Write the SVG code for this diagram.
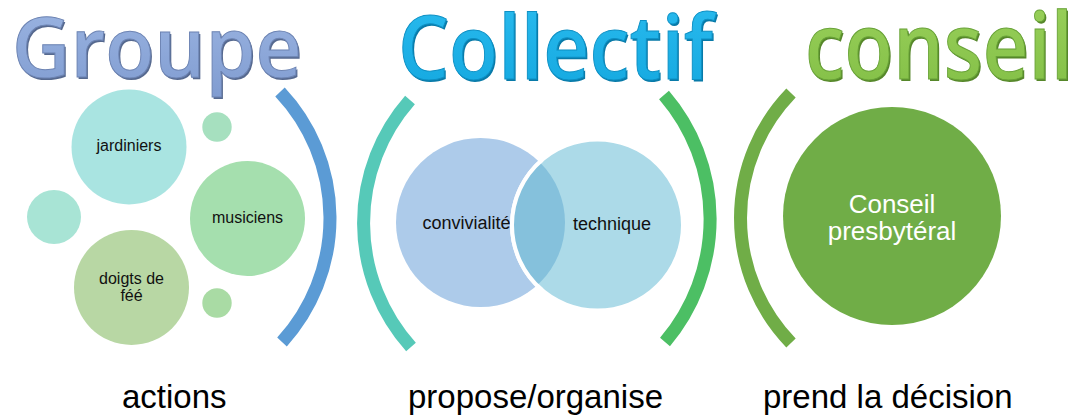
<svg xmlns="http://www.w3.org/2000/svg" width="1080" height="416" viewBox="0 0 1080 416">
  <defs>
    <linearGradient id="gBlue" x1="0" y1="0" x2="0" y2="1">
      <stop offset="0" stop-color="#9fb8e4"/>
      <stop offset="1" stop-color="#7f9bd0"/>
    </linearGradient>
    <linearGradient id="gCyan" x1="0" y1="0" x2="0" y2="1">
      <stop offset="0" stop-color="#2cbdf0"/>
      <stop offset="1" stop-color="#12a6de"/>
    </linearGradient>
    <linearGradient id="gGreen" x1="0" y1="0" x2="0" y2="1">
      <stop offset="0" stop-color="#9dd35e"/>
      <stop offset="1" stop-color="#80bd44"/>
    </linearGradient>
    <clipPath id="clipTech">
      <circle cx="597.5" cy="225" r="85.5"/>
    </clipPath>
  </defs>
  <style>
    .title { font-family: "Open Sans", "Liberation Sans", sans-serif; font-weight: 600; }
    .lbl { font-family: "Liberation Sans", Arial, sans-serif; fill: #111111; text-anchor: middle; }
    .bottom { font-family: "Liberation Sans", Arial, sans-serif; font-size: 33px; fill: #000000; }
    .arc { fill: none; stroke-width: 13; stroke-linecap: butt; }
  </style>

  <rect width="1080" height="416" fill="#ffffff"/>

  <!-- Titles -->
  <g id="title-groupe" class="title">
    <text x="13.5" y="78.5" font-size="84" fill="#56698f" textLength="290" lengthAdjust="spacingAndGlyphs">Groupe</text>
    <text x="12" y="77" font-size="84" fill="url(#gBlue)" stroke="#6d84b3" stroke-width="1" textLength="290" lengthAdjust="spacingAndGlyphs">Groupe</text>
  </g>
  <g id="title-collectif" class="title">
    <text x="399.5" y="80.5" font-size="88" fill="#087aa8" textLength="315" lengthAdjust="spacingAndGlyphs">Collectif</text>
    <text x="398" y="79" font-size="88" fill="url(#gCyan)" stroke="#0e90c4" stroke-width="1" textLength="315" lengthAdjust="spacingAndGlyphs">Collectif</text>
  </g>
  <g id="title-conseil" class="title">
    <text x="806.5" y="80.5" font-size="92" fill="#56872a" textLength="268" lengthAdjust="spacingAndGlyphs">conseil</text>
    <text x="805" y="79" font-size="92" fill="url(#gGreen)" stroke="#69a338" stroke-width="1" textLength="268" lengthAdjust="spacingAndGlyphs">conseil</text>
  </g>

  <!-- Groupe bubbles -->
  <g id="node-jardiniers">
    <circle cx="129" cy="147" r="57.5" fill="#a9e4e1"/>
    <text class="lbl" x="129" y="151" font-size="16">jardiniers</text>
  </g>
  <g id="node-small-top">
    <circle cx="217" cy="127" r="14.7" fill="#a6e0bf"/>
  </g>
  <g id="node-small-left">
    <circle cx="54" cy="217" r="27" fill="#a8e4d5"/>
  </g>
  <g id="node-musiciens">
    <circle cx="247.5" cy="218.5" r="57.5" fill="#a5dfae"/>
    <text class="lbl" x="247.5" y="223" font-size="16">musiciens</text>
  </g>
  <g id="node-doigts">
    <circle cx="131.5" cy="287.5" r="57.5" fill="#b8d7a4"/>
    <text class="lbl" x="131.5" y="284" font-size="16">doigts de</text>
    <text class="lbl" x="131.5" y="301" font-size="16">féé</text>
  </g>
  <g id="node-small-bottom">
    <circle cx="217" cy="303" r="14.7" fill="#a9dba4"/>
  </g>

  <!-- Collectif Venn -->
  <g id="node-convivialite">
    <circle cx="480.5" cy="222.5" r="84.5" fill="#adcbea"/>
    <text class="lbl" x="466.5" y="229" font-size="18">convivialité</text>
  </g>
  <g id="node-technique">
    <circle cx="597.5" cy="225" r="85.5" fill="#acdae8" stroke="#ffffff" stroke-width="4"/>
    <circle cx="480.5" cy="222.5" r="84.5" fill="#85c1dc" clip-path="url(#clipTech)"/>
    <path d="M 597.5 225 m -85.5 0 a 85.5 85.5 0 0 1 30 -65 M 512 225 a 85.5 85.5 0 0 0 30 65" fill="none" stroke="#ffffff" stroke-width="4"/>
    <text class="lbl" x="612" y="230" font-size="18">technique</text>
  </g>

  <!-- Conseil -->
  <g id="node-conseil">
    <circle cx="892" cy="216" r="109" fill="#70ad47"/>
    <text x="892" y="213" font-family="Liberation Sans, Arial, sans-serif" font-size="26" fill="#ffffff" text-anchor="middle">Conseil</text>
    <text x="892" y="240" font-family="Liberation Sans, Arial, sans-serif" font-size="26" fill="#ffffff" text-anchor="middle">presbytéral</text>
  </g>

  <!-- Brackets -->
  <g id="connectors">
    <path class="arc" stroke="#5b9bd5" d="M280,92 A184,184 0 0 1 282,342"/>
    <path class="arc" stroke="#56c9b8" d="M410,100 A186,186 0 0 0 411,347"/>
    <path class="arc" stroke="#4cbf64" d="M664,95 A190,190 0 0 1 665,342"/>
    <path class="arc" stroke="#70ad47" d="M791,93 A180,180 0 0 0 791,343"/>
  </g>

  <!-- Bottom labels -->
  <g id="label-actions"><text class="bottom" x="122" y="408">actions</text></g>
  <g id="label-propose"><text class="bottom" x="408" y="408">propose/organise</text></g>
  <g id="label-decision"><text class="bottom" x="763" y="408">prend la décision</text></g>
</svg>
